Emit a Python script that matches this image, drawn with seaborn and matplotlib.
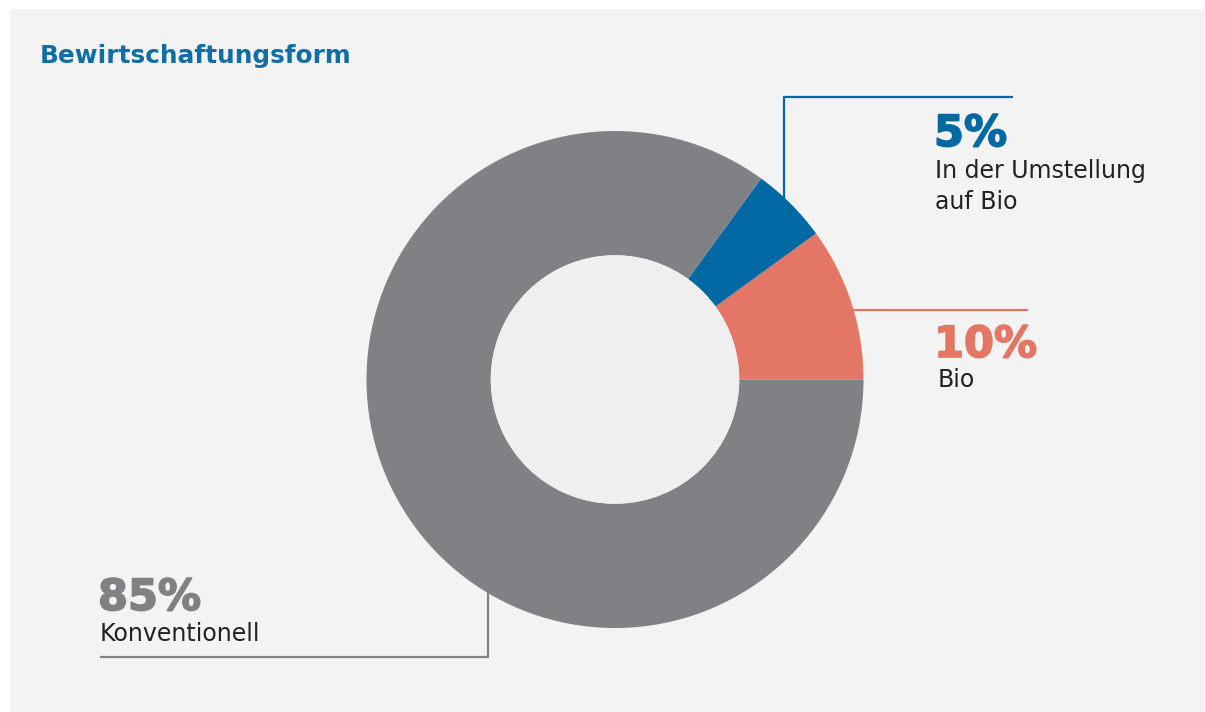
import matplotlib
matplotlib.use("Agg")
import matplotlib.pyplot as plt
import matplotlib.patheffects as pe
from matplotlib.patches import Rectangle, Circle
import seaborn as sns

# Share of farms by management type
categories = ["Bio", "In der Umstellung auf Bio", "Konventionell"]
shares = [10, 5, 85]
pct_labels = ["10%", "5%", "85%"]
colors = ["#e37664", "#0069a3", "#808185"]
title = "Bewirtschaftungsform"

sns.set_theme(style="white")
plt.rcParams["font.family"] = ["DejaVu Sans"]

W, H = 1205, 712
fig = plt.figure(figsize=(W / 100, H / 100), dpi=100)
fig.patch.set_facecolor("white")

# light panel behind everything
fig.patches.append(Rectangle((10 / W, 0), (1204 - 10) / W, (712 - 9) / H,
                             transform=fig.transFigure, facecolor="#f3f3f3",
                             edgecolor="none", zorder=-5))

# donut axes: centre (615, 379.5) px, outer radius 248.5 px
cx, cy, r = 615, 379.5, 248.5
ax = fig.add_axes([(cx - r) / W, (H - cy - r) / H, 2 * r / W, 2 * r / H], zorder=2)
ax.set_facecolor("none")
hole = 0.5
ax.pie(shares, colors=colors, startangle=0, counterclock=True, radius=1,
       wedgeprops=dict(width=1 - hole, edgecolor="none", linewidth=0))
ax.add_patch(Circle((0, 0), hole, facecolor="#efefef", edgecolor="none"))
ax.set_xlim(-1, 1)
ax.set_ylim(-1, 1)
ax.axis("off")

# overlay in pixel coordinates for title, leaders and labels
ov = fig.add_axes([0, 0, 1, 1], zorder=1)
ov.set_xlim(0, W)
ov.set_ylim(H, 0)
ov.axis("off")
ov.patch.set_alpha(0)

ov.text(40, 63, title, color="#0f6ea6", fontsize=17.8, fontweight="bold",
        va="baseline", ha="left")

lw = 1.6
# Umstellung leader
ov.plot([784, 784, 1013], [230, 97, 97], color=colors[1], lw=lw, solid_capstyle="butt")
# Bio leader
ov.plot([830, 1028], [310, 310], color=colors[0], lw=lw, solid_capstyle="butt")
# Konventionell leader
ov.plot([488, 488, 100], [560, 657, 657], color=colors[2], lw=lw, solid_capstyle="butt")

def pct_text(x, y, s, color):
    ov.text(x, y, s, color=color, fontsize=31, fontweight="bold",
            va="baseline", ha="left",
            path_effects=[pe.Stroke(linewidth=1.2, foreground=color), pe.Normal()])

lab_kw = dict(fontsize=17, fontweight="normal", color="#222222", va="baseline", ha="left")

pct_text(934, 146, pct_labels[1], colors[1])
ov.text(935, 178, "In der Umstellung", **lab_kw)
ov.text(935, 209, "auf Bio", **lab_kw)

pct_text(934, 357, pct_labels[0], colors[0])
ov.text(938, 387, categories[0], **lab_kw)

pct_text(98, 610, pct_labels[2], colors[2])
ov.text(100, 641, categories[2], **lab_kw)

fig.savefig("out.png", dpi=100, facecolor="white")
